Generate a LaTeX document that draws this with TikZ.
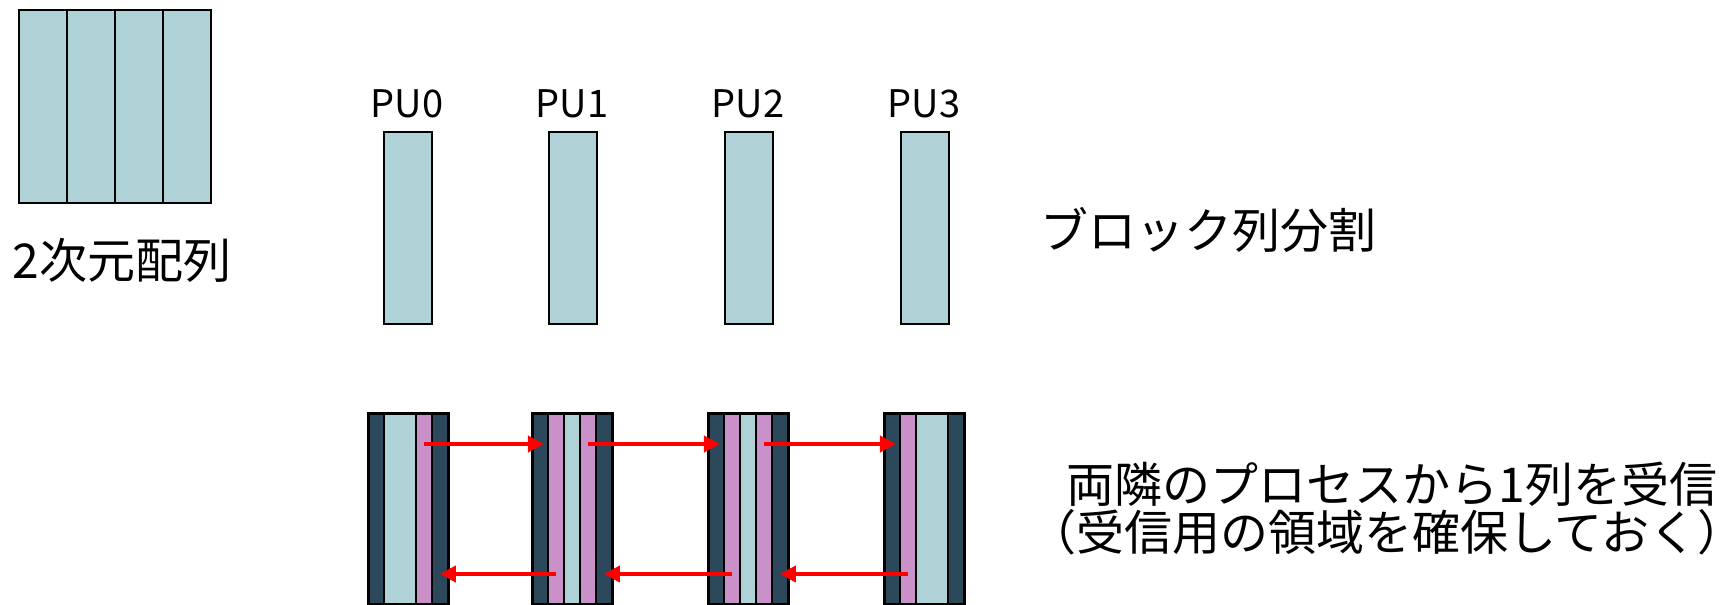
\documentclass[tikz,border=0pt]{standalone}
\usepackage{fontspec}
\setmainfont{Noto Sans CJK JP}
\usetikzlibrary{arrows.meta,calc}
\definecolor{cellblue}{RGB}{174,210,213}
\definecolor{ghost}{RGB}{44,73,92}
\definecolor{recv}{RGB}{201,145,200}
\tikzset{
  cell/.style={draw=black,line width=2pt,fill=cellblue,minimum width=48pt,minimum height=193pt,inner sep=0pt,anchor=north west},
  pu/.style={draw=black,line width=2pt,fill=cellblue,minimum width=48pt,minimum height=192pt,inner sep=0pt,anchor=north west},
  stripe/.style={draw=black,line width=1.8pt,minimum height=191pt,inner sep=0pt,anchor=north west},
  ghoststripe/.style={stripe,fill=ghost,minimum width=16pt},
  recvstripe/.style={stripe,fill=recv,minimum width=16pt},
  ownstripe/.style={stripe,fill=cellblue},
  frame/.style={draw=black,line width=3pt,minimum height=191pt,minimum width=80pt,inner sep=0pt,anchor=north west},
  lbl/.style={inner sep=0pt,font=\fontsize{48}{52}\selectfont},
  pulbl/.style={inner sep=0pt,font=\fontsize{38}{42}\selectfont},
  msg/.style={draw=red,line width=4pt,-{Triangle[length=16pt,width=16pt]}}
}
\begin{document}
\begin{tikzpicture}[x=1pt,y=-1pt]
\useasboundingbox (0,0) rectangle (1735,605);
% 2D array
\node[cell] (c0) at (18,9) {};
\node[cell] (c1) at (66,9) {};
\node[cell] (c2) at (114,9) {};
\node[cell] (c3) at (162,9) {};
\node[lbl] (arrlbl) at (122,260) {2次元配列};
% block column partition
\node[pu] (pu0) at (383,131) {};
\node[pu] (pu1) at (548,131) {};
\node[pu] (pu2) at (724,131) {};
\node[pu] (pu3) at (900,131) {};
\node[pulbl] (l0) at (407,104) {PU0};
\node[pulbl] (l1) at (572,104) {PU1};
\node[pulbl] (l2) at (748,104) {PU2};
\node[pulbl] (l3) at (924,104) {PU3};
\node[lbl,anchor=west] (blk) at (1040,230) {ブロック列分割};
% with ghost columns
% block 0
\node[ghoststripe] (d0l) at (367,412) {};
\node[ownstripe,minimum width=32pt] (o0) at (383,412) {};
\node[recvstripe] (p0r) at (415,412) {};
\node[ghoststripe] (d0r) at (431,412) {};
\node[frame] (f0) at (367,412) {};
% block 1
\node[ghoststripe] (d1l) at (531,412) {};
\node[recvstripe] (p1l) at (547,412) {};
\node[ownstripe,minimum width=16pt] (o1) at (563,412) {};
\node[recvstripe] (p1r) at (579,412) {};
\node[ghoststripe] (d1r) at (595,412) {};
\node[frame] (f1) at (531,412) {};
% block 2
\node[ghoststripe] (d2l) at (707,412) {};
\node[recvstripe] (p2l) at (723,412) {};
\node[ownstripe,minimum width=16pt] (o2) at (739,412) {};
\node[recvstripe] (p2r) at (755,412) {};
\node[ghoststripe] (d2r) at (771,412) {};
\node[frame] (f2) at (707,412) {};
% block 3
\node[ghoststripe] (d3l) at (883,412) {};
\node[recvstripe] (p3l) at (899,412) {};
\node[ownstripe,minimum width=32pt] (o3) at (915,412) {};
\node[ghoststripe] (d3r) at (947,412) {};
\node[frame] (f3) at (883,412) {};
% messages
\coordinate (ya) at (0,444);
\coordinate (yb) at (0,574);
\draw[msg] (p0r.center |- ya) -- ([xshift=4pt]d1l.center |- ya);
\draw[msg] (p1r.center |- ya) -- ([xshift=4pt]d2l.center |- ya);
\draw[msg] (p2r.center |- ya) -- ([xshift=4pt]d3l.center |- ya);
\draw[msg] (p1l.center |- yb) -- (d0r.center |- yb);
\draw[msg] (p2l.center |- yb) -- (d1r.center |- yb);
\draw[msg] (p3l.center |- yb) -- (d2r.center |- yb);
\node[lbl] (t1) at (1392,484) {両隣のプロセスから1列を受信};
\node[lbl] (t2) at (1377,532) {（受信用の領域を確保しておく）\kern-0.4em};
\end{tikzpicture}
\end{document}
